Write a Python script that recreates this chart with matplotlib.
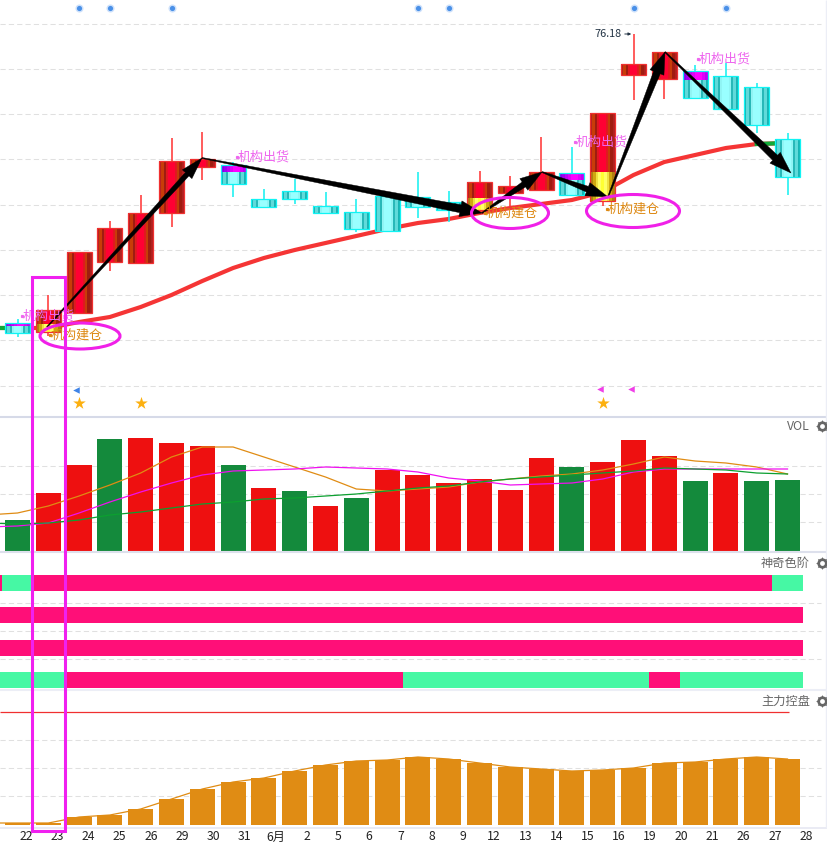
import matplotlib
matplotlib.use('Agg')
import matplotlib.pyplot as plt
import numpy as np
from matplotlib.colors import to_rgb
from matplotlib.patches import Ellipse, Polygon, Rectangle

plt.rcParams['font.family'] = ['Noto Sans CJK SC', 'DejaVu Sans']

W, H = 827, 844
X0, DX = 17.5, 30.8   # centre of first bar, bar spacing

# candles, read as height above the bottom of the main panel
body_top = [94, 107, 165, 189, 204, 256, 258, 252, 218, 226, 211, 205, 221, 220, 215, 235, 231, 245, 244, 304, 353, 365, 346, 341, 330, 278]
body_bot = [84, 85, 104, 155, 154, 204, 250, 233, 210, 218, 204, 188, 186, 210, 207, 207, 224, 227, 222, 216, 342, 338, 319, 308, 292, 240]
highs = [98, 122, 165, 196, 222, 279, 285, 255, 228, 238, 225, 218, 221, 245, 226, 246, 241, 280, 270, 304, 383, 365, 352, 354, 334, 284]
lows = [80, 81, 104, 146, 154, 190, 237, 220, 209, 213, 204, 185, 186, 199, 195, 204, 211, 226, 222, 211, 317, 318, 319, 308, 284, 222]
is_up = [0, 1, 1, 1, 1, 1, 1, 0, 0, 0, 0, 0, 0, 0, 0, 1, 1, 1, 0, 1, 1, 1, 0, 0, 0, 0]
yellow_idx = [1, 15, 19]
yellow_top = [93, 219, 245]
purple_idx = [0, 7, 18, 22]
purple_bot = [91, 245, 237, 337]
# moving average from index -1
ma_line = [89, 89, 89, 95, 100, 110, 122, 136, 149, 159, 167, 174, 181, 188, 194, 198, 204, 209, 213, 217, 225, 242, 255, 262, 269, 273, 274]

zig_x = [47, 202, 482, 542, 608, 665, 791]
zig_h = [90, 259, 204, 245, 220, 365, 244]
zig_neck = [5, 8, 6, 6, 7, 7]

sell_x = [22, 237, 575, 698]
sell_h = [101, 260, 275, 358]
buy_x = [50, 485, 607]
buy_h = [82, 204, 208]
ring_x = [80, 510, 633]
ring_h = [81, 204, 206]
ring_w = [80, 77, 93]
ring_t = [26, 31, 33]

dot_idx = [2, 3, 5, 13, 14, 20, 23]
star_idx = [2, 4, 19]
blue_flag_idx = [2]
pink_flag_idx = [19, 20]

# volume panel
vol = [31, 58, 86, 112, 113, 108, 105, 86, 63, 60, 45, 53, 81, 76, 68, 72, 61, 93, 84, 89, 111, 95, 70, 78, 70, 71]
vol_green = [0, 3, 7, 9, 11, 18, 22, 24, 25]
vol_orange = [36, 38, 45, 55, 66, 78, 94, 104, 104, 94, 84, 74, 62, 60, 62, 64, 69, 72, 75, 77, 81, 87, 94, 90, 88, 84, 77]
vol_magenta = [24, 25, 28, 38, 49, 59, 68, 76, 80, 81, 82, 84, 83, 82, 79, 73, 70, 66, 67, 68, 72, 79, 82, 82, 82, 82, 82]
vol_line_green = [28, 27, 28, 31, 36, 39, 43, 47, 49, 52, 53, 55, 57, 60, 63, 65, 69, 72, 74, 76, 78, 80, 83, 82, 81, 78, 77]

# colour ladder, 1 = pink, 0 = green, from index -1
row_1 = [1, 0] + [1] * 24 + [0]
row_2 = [1] * 27
row_3 = [1] * 27
row_4 = [0, 0, 0] + [1] * 11 + [0] * 8 + [1] + [0] * 4

# control panel
ctrl = [2, 2, 8, 10, 16, 26, 36, 43, 47, 54, 60, 64, 65, 68, 66, 62, 58, 56, 54, 55, 57, 62, 63, 66, 68, 66]

tick_labels = ['22', '23', '24', '25', '26', '29', '30', '31', '6月', '2', '5', '6', '7', '8', '9',
               '12', '13', '14', '15', '16', '19', '20', '21', '26', '27', '28']

RED_STRIPES = ['#b02020', '#c83c08', '#a01c10', '#e01820', '#ff0033', '#ff0033', '#ff0033', '#e01820', '#c83c08', '#a01c10', '#b02020']
CYAN_STRIPES = ['#18b4b4', '#60dada', '#28b8b8', '#90f4f4', '#99ffff', '#99ffff', '#99ffff', '#90f4f4', '#28b8b8', '#60dada', '#18b4b4']
YELLOW_STRIPES = ['#b08010', '#d0a810', '#f0e040', '#ffff66', '#ffff33', '#ffff66', '#f0e040', '#d0a810', '#b08010']
PURPLE_STRIPES = ['#8800ee', '#a000f0', '#c000f4', '#e000f8', '#ff00ff', '#ff00ff', '#e000f8', '#c000f4']
GRID = '#e0e0e0'
PINK = '#ff0f78'
MINT = '#46f8a4'
BAR_W = 25


def bar_x(i):
    return X0 + DX * np.asarray(i)


def panel(top, bottom, ylim):
    ax = fig.add_axes([0, 1 - bottom / H, 1, (bottom - top) / H])
    ax.set_xlim(0, W)
    ax.set_ylim(*ylim)
    ax.axis('off')
    return ax


def grid_lines(ax, ys):
    ax.hlines(ys, 0, 821, color=GRID, lw=0.75, linestyles=(0, (5, 3)), zorder=1)


def striped(ax, x, h0, h1, colours, z):
    img = np.array([[to_rgb(c) for c in colours]])
    ax.imshow(img, extent=(x - BAR_W / 2, x + BAR_W / 2, h0, h1), aspect='auto',
              interpolation='nearest', zorder=z)


def taper_arrow(ax, p0, p1, neck, head=None, head_l=None):
    p0, p1 = np.array(p0, float), np.array(p1, float)
    d = (p1 - p0) / np.hypot(*(p1 - p0))
    n = np.array([-d[1], d[0]])
    head = head or neck + 8
    head_l = head_l or 22
    base = p1 - d * head_l
    pts = [p0 + n * 0.5, base + n * neck / 2, base + n * head / 2, p1,
           base - n * head / 2, base - n * neck / 2, p0 - n * 0.5]
    ax.add_patch(Polygon(pts, closed=True, fc='black', ec='black', lw=0.3, zorder=7))


fig = plt.figure(figsize=(W / 100, H / 100), dpi=100)

# main candle panel
ax = panel(0, 417, (0, 417))
grid_lines(ax, [417 - y for y in (24, 69, 114, 159, 205, 250, 295, 340, 386)])

ma_x = bar_x(np.arange(-1, 26))
ax.plot(ma_x, ma_line, color='#f53535', lw=3.0, zorder=2, solid_capstyle='butt')
ax.plot(ma_x[:2], ma_line[:2], color='#10aa38', lw=3.0, zorder=2.1)
ax.plot(ma_x[-2:], ma_line[-2:], color='#10aa38', lw=3.0, zorder=2.1)

for i in range(26):
    x = bar_x(i)
    up = is_up[i]
    ax.vlines(x, lows[i], highs[i], color='#ff3030' if up else '#10f0f0', lw=1.1, zorder=3)
    striped(ax, x, body_bot[i], body_top[i], RED_STRIPES if up else CYAN_STRIPES, 4)
    ax.add_patch(Rectangle((x - BAR_W / 2, body_bot[i]), BAR_W, body_top[i] - body_bot[i], fc='none',
                           ec='#f03030' if up else '#10f4f4', lw=0.9, zorder=4.2))
for i, t in zip(yellow_idx, yellow_top):
    striped(ax, bar_x(i), body_bot[i], t, YELLOW_STRIPES, 4.1)
for i, b in zip(purple_idx, purple_bot):
    striped(ax, bar_x(i), b, body_top[i], PURPLE_STRIPES, 4.1)

for k, neck in enumerate(zig_neck):
    taper_arrow(ax, (zig_x[k], zig_h[k]), (zig_x[k + 1], zig_h[k + 1]), neck)

for x, h, w, t in zip(ring_x, ring_h, ring_w, ring_t):
    ax.add_patch(Ellipse((x, h), w, t, fc='none', ec='#f020e8', lw=2.2, zorder=8))
for x, h in zip(sell_x, sell_h):
    ax.plot(x, h, 's', ms=1.3, color='#ee66ee', zorder=9)
    ax.text(x + 1, h, '机构出货', color='#ee66ee', fontsize=9.4, va='center', ha='left', zorder=9)
for x, h in zip(buy_x, buy_h):
    ax.plot(x, h, 's', ms=1.3, color='#dd8811', zorder=9)
    ax.text(x + 1, h, '机构建仓', color='#dd8811', fontsize=9.4, va='center', ha='left', zorder=9)

ax.text(622, max(highs), '76.18', color='#223344', fontsize=7.8, va='center', ha='right', zorder=9)
ax.annotate('', xy=(634, max(highs)), xytext=(622, max(highs)),
            arrowprops=dict(arrowstyle='-|>', color='#223344', lw=0.7, mutation_scale=4), zorder=9)

ax.scatter(bar_x(dot_idx), [409] * len(dot_idx), s=34, color='#cfe2fb', linewidths=0, zorder=5)
ax.scatter(bar_x(dot_idx), [409] * len(dot_idx), s=14, color='#4a90e8', linewidths=0, zorder=5.1)
ax.scatter(bar_x(star_idx), [14] * len(star_idx), s=90, marker='*', color='#fcb010', linewidths=0, zorder=5)
ax.scatter(bar_x(blue_flag_idx) - 3, [27] * len(blue_flag_idx), s=22, marker='<', color='#3f84e8', linewidths=0, zorder=5)
ax.scatter(bar_x(pink_flag_idx) - 3, [28] * len(pink_flag_idx), s=22, marker='<', color='#f040e8', linewidths=0, zorder=5)
ax.set_xlim(0, W)
ax.set_ylim(0, 417)

# volume panel
ax = panel(417, 552, (-1, 134))
grid_lines(ax, [85, 57, 29])
ax.bar(bar_x(np.arange(26)), vol, width=BAR_W, zorder=2,
       color=['#148a3c' if i in vol_green else '#ee1010' for i in range(26)])
line_x = bar_x(np.arange(-1, 26))
ax.plot(line_x, vol_orange, color='#e08c14', lw=0.9, zorder=3)
ax.plot(line_x, vol_magenta, color='#f010f0', lw=0.9, zorder=3.1)
ax.plot(line_x, vol_line_green, color='#0ca030', lw=0.9, zorder=3.2)

# colour ladder panel
ax = panel(552, 690, (690, 552))
grid_lines(ax, [603, 631, 659])
for row, top in zip((row_1, row_2, row_3, row_4), (575, 607, 640, 672)):
    ax.bar(line_x, [16] * 27, width=DX, bottom=top, zorder=2, linewidth=0,
           color=[PINK if v else MINT for v in row])

# control panel
ax = panel(690, 828, (-3, 135))
grid_lines(ax, [85, 57, 29])
ax.hlines(113, 0, 789, color='#f03030', lw=0.9, zorder=2)
ax.bar(bar_x(np.arange(26)), ctrl, width=BAR_W, color='#e08c14', zorder=2)
ax.plot(bar_x(np.arange(-1, 26)), [2] + ctrl, color='#e08c14', lw=0.9, zorder=3)

# date axis, and things that span panels
ov = fig.add_axes([0, 0, 1, 1], facecolor='none')
ov.set_xlim(0, W)
ov.set_ylim(H, 0)
ov.axis('off')
for y, c, w in ((417, '#d6dae8', 1.5), (552, '#dde0ec', 1.5), (690, '#eceef6', 1.5), (828, '#e6e8f2', 1.2)):
    ov.hlines(y, 0, W, color=c, lw=w, zorder=1)
ov.vlines(825.5, 0, 828, color='#eceef6', lw=1.0, zorder=1)
for k, lab in enumerate(tick_labels):
    ov.text(26 + 31.2 * k, 837, lab, fontsize=8.8, color='#222222', ha='center', va='center')
for name, y in (('VOL', 426), ('神奇色阶', 563), ('主力控盘', 701)):
    ov.text(810, y, name, fontsize=8.8, color='#666666', ha='right', va='center')
    ov.scatter([821.5], [y], s=90, marker=(8, 1, 0), color='#666666', linewidths=0, zorder=3)
    ov.scatter([821.5], [y], s=55, color='#666666', linewidths=0, zorder=3.05)
    ov.scatter([821.5], [y], s=12, color='white', linewidths=0, zorder=3.1)
ov.add_patch(Rectangle((31.5, 276.5), 33, 554, fc='none', ec='#f020f0', lw=2.2, zorder=10))

fig.savefig('out.png', dpi=100)
